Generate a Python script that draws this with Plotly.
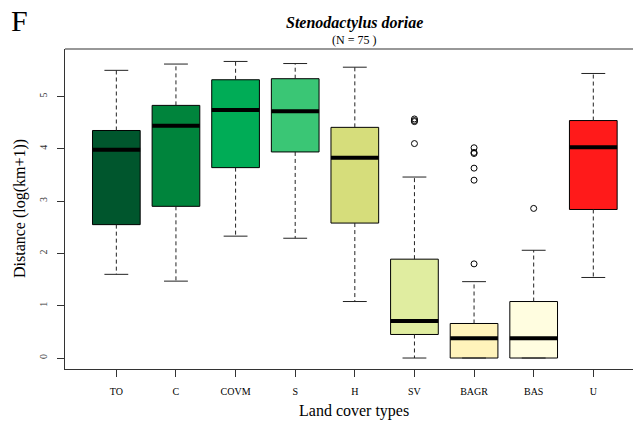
import plotly.graph_objects as go

categories = ["TO", "C", "COVM", "S", "H", "SV", "BAGR", "BAS", "U"]
lower_whisker = [1.60, 1.47, 2.33, 2.29, 1.08, 0.00, 0.00, 0.00, 1.54]
q1 = [2.55, 2.90, 3.64, 3.94, 2.58, 0.45, 0.00, 0.00, 2.84]
median = [3.98, 4.44, 4.74, 4.72, 3.83, 0.71, 0.38, 0.38, 4.03]
q3 = [4.35, 4.83, 5.32, 5.34, 4.41, 1.89, 0.66, 1.08, 4.54]
upper_whisker = [5.50, 5.62, 5.67, 5.63, 5.56, 3.46, 1.46, 2.06, 5.44]
outlier_cat = ["SV", "SV", "SV", "SV", "BAGR", "BAGR", "BAGR", "BAGR", "BAGR", "BAGR", "BAS"]
outlier_val = [4.10, 4.52, 4.54, 4.57, 4.02, 3.93, 3.91, 3.63, 3.40, 1.80, 2.86]
colors = ["#00562d", "#00843c", "#00ac56", "#3ac675", "#d6dd7b",
          "#e0eda0", "#fff3bb", "#fffde0", "#ff1a1a"]
y_ticks = [0, 1, 2, 3, 4, 5]

FONT = "Liberation Serif"
pos = list(range(1, len(categories) + 1))
half_box = 0.4
half_cap = 0.2

# page body has an 8px margin; the figure is sized to fill the rest
OFF = 8
W, H = 641 - OFF, 423 - OFF
PL, PT, PB = 65 - OFF, 49.3 - OFF, 369.3 - OFF  # plot area edges in figure px
PW, PH = W - PL, PB - PT

fig = go.Figure()

# boxes
fig.add_trace(go.Bar(
    x=pos, y=[b - a for a, b in zip(q1, q3)], base=q1, width=0.8,
    marker=dict(color=colors, line=dict(color="black", width=1)),
    hoverinfo="skip", showlegend=False))

# whiskers (dashed)
wx, wy = [], []
for p, a, b, lo, hi in zip(pos, q1, q3, lower_whisker, upper_whisker):
    wx += [p, p, None, p, p, None]
    wy += [b, hi, None, a, lo, None]
fig.add_trace(go.Scatter(x=wx, y=wy, mode="lines",
                         line=dict(color="#222222", width=1, dash="4px,3px"),
                         hoverinfo="skip", showlegend=False))

# staples
cx, cy = [], []
for p, lo, hi in zip(pos, lower_whisker, upper_whisker):
    cx += [p - half_cap, p + half_cap, None, p - half_cap, p + half_cap, None]
    cy += [hi, hi, None, lo, lo, None]
fig.add_trace(go.Scatter(x=cx, y=cy, mode="lines",
                         line=dict(color="#222222", width=1),
                         hoverinfo="skip", showlegend=False))

# medians
mx, my = [], []
for p, m in zip(pos, median):
    mx += [p - half_box, p + half_box, None]
    my += [m, m, None]
fig.add_trace(go.Scatter(x=mx, y=my, mode="lines",
                         line=dict(color="black", width=4),
                         hoverinfo="skip", showlegend=False))

# outliers
ox = [categories.index(c) + 1 for c in outlier_cat]
fig.add_trace(go.Scatter(x=ox, y=outlier_val, mode="markers",
                         marker=dict(symbol="circle-open", size=6,
                                     color="black", line=dict(width=1)),
                         hoverinfo="skip", showlegend=False))


def px_x(x):  # page px -> paper x
    return (x - OFF - PL) / PW


def px_y(y):  # page px -> paper y
    return (PB - (y - OFF)) / PH


fig.update_layout(
    width=W, height=H,
    margin=dict(l=PL, r=0, t=PT, b=H - PB, pad=0),
    paper_bgcolor="white", plot_bgcolor="white",
    font=dict(family=FONT, color="black"),
    showlegend=False,
    xaxis=dict(range=[0.139, 9.80], tickvals=pos, ticktext=categories,
               showgrid=False, zeroline=False, showline=True,
               linecolor="#333333", linewidth=1,
               ticks="outside", ticklen=7, tickcolor="#333333",
               tickfont=dict(family=FONT, size=10), ticklabelstandoff=6),
    yaxis=dict(range=[-0.210, 5.908], tickvals=y_ticks,
               showgrid=False, zeroline=False, showline=True,
               linecolor="#333333", linewidth=1,
               ticks="outside", ticklen=7, tickcolor="#333333",
               tickangle=-90,
               tickfont=dict(family=FONT, size=10, color="#333333"),
               ticklabelstandoff=6),
    shapes=[dict(type="line", xref="paper", yref="paper", x0=0, x1=1, y0=1, y1=1,
                 line=dict(color="#333333", width=1.2))],
    annotations=[
        dict(text="<b><i>Stenodactylus doriae</i></b>", xref="paper", yref="paper",
             x=px_x(354), y=px_y(23), xanchor="center", yanchor="middle",
             showarrow=False, font=dict(family=FONT, size=16)),
        dict(text="(N = 75 )", xref="paper", yref="paper",
             x=px_x(354), y=px_y(40), xanchor="center", yanchor="middle",
             showarrow=False, font=dict(family=FONT, size=12)),
        dict(text="Land cover types", xref="paper", yref="paper",
             x=px_x(354), y=px_y(411), xanchor="center", yanchor="middle",
             showarrow=False, font=dict(family=FONT, size=16)),
        dict(text="Distance (log(km+1))", xref="paper", yref="paper",
             x=px_x(20), y=0.5, xanchor="center", yanchor="middle",
             textangle=-90, showarrow=False, font=dict(family=FONT, size=16)),
        dict(text="F", xref="paper", yref="paper",
             x=px_x(19), y=px_y(21), xanchor="center",
             yanchor="middle", showarrow=False, font=dict(family=FONT, size=30)),
    ],
)

fig.write_html("out.html")
